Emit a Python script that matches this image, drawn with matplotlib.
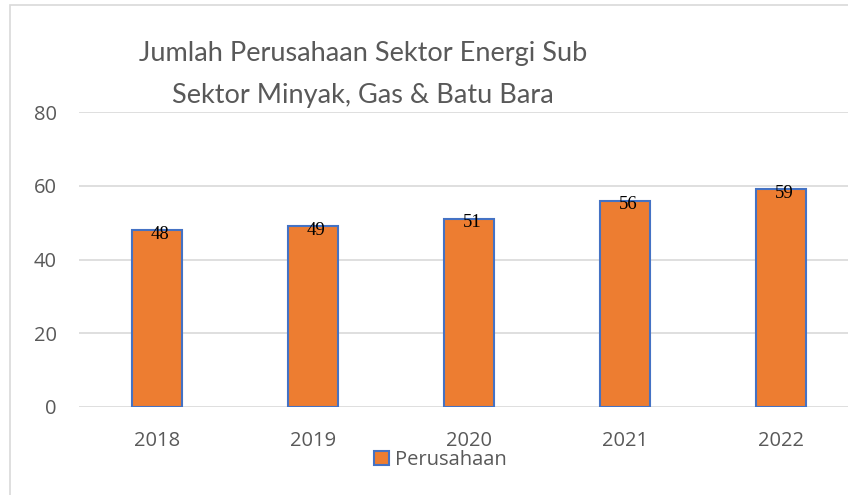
import matplotlib
matplotlib.use("Agg")
import matplotlib.pyplot as plt
from matplotlib.patches import Rectangle

years = ["2018", "2019", "2020", "2021", "2022"]
values = [48, 49, 51, 56, 59]
yticks = [0, 20, 40, 60, 80]
series_name = "Perusahaan"
title = "Jumlah Perusahaan Sektor Energi Sub\nSektor Minyak, Gas & Batu Bara"

W, H = 848, 495
fig = plt.figure(figsize=(W / 100, H / 100), dpi=100)
fig.patch.set_facecolor("white")

# outer chart border
fig.add_artist(Rectangle((10 / W, -0.1), 1.2, (H - 5) / H + 0.1, transform=fig.transFigure,
                         fill=False, edgecolor="#D9D9D9", linewidth=1.2))

ax = fig.add_axes([79 / W, (H - 407) / H, 780 / W, 295 / H])
x = list(range(len(years)))
ax.bar(x, values, width=0.32, color="#ED7D31", edgecolor="#4472C4", linewidth=1.5, zorder=3)
ax.set_xlim(-0.5, len(years) - 0.5)
ax.set_ylim(0, 80)
ax.set_yticks(yticks)
ax.set_xticks(x)
ax.set_xticklabels(years)
ax.grid(axis="y", color="#D9D9D9", linewidth=1.2, zorder=0)
for s in ax.spines.values():
    s.set_visible(False)
ax.tick_params(axis="both", length=0, labelsize=14.5, labelcolor="#595959")
ax.tick_params(axis="y", pad=16)
ax.tick_params(axis="x", pad=17)
for lab in ax.get_xticklabels() + ax.get_yticklabels():
    lab.set_family("Open Sans")

for xi, v in zip(x, values):
    ax.text(xi + 0.02, v - 1.1, str(v), ha="center", va="center", fontsize=13.5,
            family="Liberation Serif", color="black", zorder=4)

fig.text(363 / W, 1 - 75 / H, title, ha="center", va="center", fontsize=19.5,
         family="Lato", color="#595959", linespacing=1.85)

handle = Rectangle((0, 0), 1, 1, facecolor="#ED7D31", edgecolor="#4472C4", linewidth=1.5)
fig.legend([handle], [series_name], loc="center", bbox_to_anchor=(440 / W, 1 - 460 / H),
           frameon=False, handlelength=0.75, handleheight=0.75, handletextpad=0.3,
           prop={"family": "Open Sans", "size": 14.5}, labelcolor="#595959")

fig.savefig("out.png", dpi=100, facecolor="white")
